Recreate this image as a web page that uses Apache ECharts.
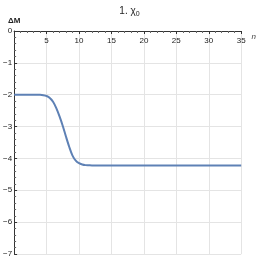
<!DOCTYPE html>
<html><head><meta charset="utf-8">
<script src="https://cdn.jsdelivr.net/npm/echarts@6/dist/echarts.min.js"></script>
<style>html,body{margin:0;padding:0;background:#fff}#c{width:259px;height:259px}</style>
</head><body><div id="c"></div>
<script>
var xValues = [0, 1, 2, 3, 4, 4.5, 5, 5.5, 6, 6.5, 7, 7.5, 8, 8.5, 9, 9.5, 10, 10.5, 11, 11.5, 12, 13, 15, 20, 25, 30, 35];
var deltaM  = [-2.0, -2.0, -2.0, -2.0, -2.005, -2.015, -2.04, -2.1, -2.22, -2.42, -2.68, -2.98, -3.32, -3.64, -3.91, -4.07, -4.15, -4.19, -4.21, -4.215, -4.22, -4.22, -4.22, -4.22, -4.22, -4.22, -4.22];
var xTicks = [5, 10, 15, 20, 25, 30, 35];
var yTicks = [0, -1, -2, -3, -4, -5, -6, -7];

var chart = echarts.init(document.getElementById('c'), null, {renderer: 'canvas'});
var font = 'Liberation Sans Narrow, Liberation Sans, sans-serif';
chart.setOption({
  animation: false,
  title: {
    text: '{a|1. χ}{b|0}',
    left: 'center', top: 0,
    textStyle: {rich: {
      a: {fontSize: 10, fontFamily: font, fontWeight: 'normal', color: '#222'},
      b: {fontSize: 7, fontFamily: font, fontWeight: 'normal', color: '#222', verticalAlign: 'bottom', padding: [6, 0, 0, 0]}
    }}
  },
  grid: {left: 10, right: 10, top: 31, bottom: 5, containLabel: false},
  xAxis: {
    type: 'value', min: 0, max: 35, interval: 5, position: 'top',
    name: 'n', nameLocation: 'end', nameGap: 3,
    nameTextStyle: {fontSize: 8, fontStyle: 'italic', fontFamily: font, color: '#444', verticalAlign: 'top', padding: [2, 0, 0, 0]},
    axisLine: {show: true, onZero: false, lineStyle: {color: '#333', width: 1}},
    axisTick: {show: true, inside: true, length: 3, lineStyle: {color: '#333'}},
    minorTick: {show: true, splitNumber: 5, length: 2, lineStyle: {color: '#666'}},
    axisLabel: {inside: true, margin: 6, fontSize: 8, fontFamily: font, color: '#1a1a1a',
      formatter: function (v) { return xTicks.indexOf(v) >= 0 ? String(v) : ''; }},
    splitLine: {show: true, lineStyle: {color: '#e4e4e4', width: 1}}
  },
  yAxis: {
    type: 'value', min: -7, max: 0, interval: 1,
    name: 'ΔM', nameLocation: 'end', nameGap: 6,
    nameTextStyle: {fontSize: 8, fontFamily: font, fontWeight: 'bold', color: '#222', align: 'center'},
    axisLine: {show: true, onZero: false, lineStyle: {color: '#333', width: 1}},
    axisTick: {show: true, inside: true, length: 3, lineStyle: {color: '#333'}},
    minorTick: {show: true, splitNumber: 5, length: 2, lineStyle: {color: '#666'}},
    axisLabel: {margin: 2, fontSize: 8, fontFamily: font, color: '#1a1a1a',
      formatter: function (v) { return yTicks.indexOf(v) >= 0 ? (v < 0 ? '−' + (-v) : String(v)) : ''; }},
    splitLine: {show: true, lineStyle: {color: '#e4e4e4', width: 1}}
  },
  series: [{
    type: 'line', smooth: 0.3, showSymbol: false,
    data: xValues.map(function (x, i) { return [x, deltaM[i]]; }),
    lineStyle: {color: '#5E81B5', width: 2},
    itemStyle: {color: '#5E81B5'}
  }]
});
</script>
</body></html>
